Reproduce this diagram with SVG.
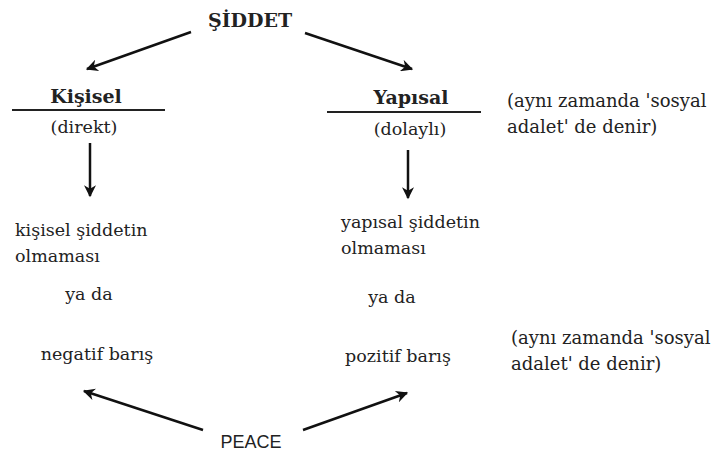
<svg xmlns="http://www.w3.org/2000/svg" width="715" height="457" viewBox="0 0 715 457">
<defs>
<marker id="ah" viewBox="0 0 10 10" refX="9" refY="5" markerWidth="13" markerHeight="12" markerUnits="userSpaceOnUse" orient="auto"><path d="M0,0 L10,5 L0,10 L3,5 Z" fill="#111"/></marker>
<style>
.t{font-family:"DejaVu Serif",serif;font-size:17.5px;fill:#222}
.n{font-size:18px}
.b{font-weight:bold;font-size:19px}
.s{font-family:"Liberation Sans",Arial,sans-serif;font-size:18px;fill:#222}
.c line{stroke:#111;stroke-width:2.5;marker-end:url(#ah)}
.r{stroke:#222;stroke-width:2}
</style>
</defs>
<rect width="715" height="457" fill="#fff"/>
<g id="siddet"><text class="t b" x="250" y="27" text-anchor="middle" font-size="18">ŞİDDET</text></g>
<g id="kisisel">
<text class="t b" x="86" y="103" text-anchor="middle">Kişisel</text>
<line class="r" x1="12" y1="110" x2="165" y2="110"/>
<text class="t" x="84" y="133" text-anchor="middle">(direkt)</text>
</g>
<g id="yapisal">
<text class="t b" x="411" y="104" text-anchor="middle">Yapısal</text>
<line class="r" x1="327" y1="112" x2="481" y2="112"/>
<text class="t" x="410" y="135" text-anchor="middle">(dolaylı)</text>
</g>
<g id="note1">
<text class="t n" x="507" y="107">(aynı zamanda 'sosyal</text>
<text class="t n" x="507" y="133">adalet' de denir)</text>
</g>
<g id="negatif">
<text class="t" x="15" y="236">kişisel şiddetin</text>
<text class="t" x="15" y="262">olmaması</text>
<text class="t" x="89" y="300" text-anchor="middle">ya da</text>
<text class="t" x="97" y="360" text-anchor="middle">negatif barış</text>
</g>
<g id="pozitif">
<text class="t" x="341" y="228">yapısal şiddetin</text>
<text class="t" x="341" y="254">olmaması</text>
<text class="t" x="392" y="303" text-anchor="middle">ya da</text>
<text class="t" x="398" y="362" text-anchor="middle">pozitif barış</text>
</g>
<g id="note2">
<text class="t n" x="511" y="344">(aynı zamanda 'sosyal</text>
<text class="t n" x="511" y="370">adalet' de denir)</text>
</g>
<g id="peace"><text class="s" x="251" y="448" text-anchor="middle">PEACE</text></g>
<g id="connectors" class="c">
<line x1="191" y1="32" x2="87" y2="69"/>
<line x1="305" y1="33" x2="412" y2="69"/>
<line x1="90" y1="143" x2="90" y2="196"/>
<line x1="408" y1="150" x2="408" y2="198"/>
<line x1="203" y1="430" x2="84" y2="391"/>
<line x1="303" y1="430" x2="407" y2="393"/>
</g>
</svg>
